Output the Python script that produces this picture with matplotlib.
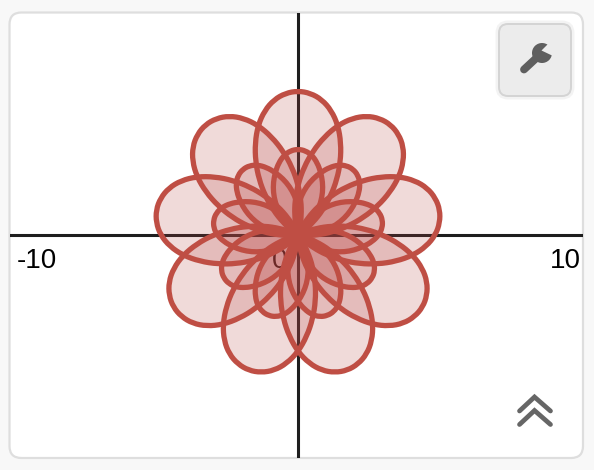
import numpy as np
import matplotlib
matplotlib.use("Agg")
import matplotlib.pyplot as plt
from matplotlib.path import Path
from matplotlib.patches import PathPatch, FancyBboxPatch, Circle, Polygon
from matplotlib.transforms import Affine2D

plt.rcParams['font.family'] = ['Liberation Sans', 'DejaVu Sans']

# Petal directions (degrees)
outer_directions = [90, 130, 170, 210, 250, 290, 330, 10, 50]
inner_directions = [90, 130, 170, 210, 250, 290, 330, 10, 50]

# Half-petal profiles: angle off the petal axis (deg), radius (units)
outer_offset = [0, 5, 10, 15, 20, 25, 30, 35, 40, 45, 50, 55, 59]
outer_radius = [5.02, 4.96, 4.79, 4.49, 4.07, 3.54, 2.96, 2.37, 1.77, 1.21, 0.68, 0.24, 0.0]
inner_offset = [0, 5, 10, 15, 20, 25, 30, 35, 40, 45, 50, 53]
inner_radius = [2.99, 2.95, 2.82, 2.60, 2.32, 2.03, 1.72, 1.38, 1.02, 0.62, 0.25, 0.0]

tick_values = [-10, 10]
tick_labels = ["-10", "10"]
origin_label = "0"

RED_LINE = "#bf4e44"
RED_FILL = "#b84644"
AXIS = "#1e1e1e"
W, H = 594, 470
S = 28.7  # px per unit
CX, CY = 298, 235
L, R, T, B = 9.5, 583, 12.5, 458

fig = plt.figure(figsize=(W / 100, H / 100), dpi=100, facecolor="#f8f8f8")

# Chrome layer in pixel coordinates
bg = fig.add_axes([0, 0, 1, 1], zorder=0)
bg.set_xlim(0, W); bg.set_ylim(H, 0); bg.axis("off")
bg.add_patch(FancyBboxPatch((L, T), R - L, B - T, boxstyle="round,pad=0,rounding_size=12",
                            fc="white", ec="#dedede", lw=1.6))

# Plot layer
ax = fig.add_axes([L / W, 1 - B / H, (R - L) / W, (B - T) / H], zorder=1)
ax.patch.set_alpha(0)
ax.set_xlim((L - CX) / S, (R - CX) / S)
ax.set_ylim((CY - B) / S, (CY - T) / S)
ax.axis("off")
ax.axhline(0, color=AXIS, lw=2.2, zorder=1)
ax.axvline(0, color=AXIS, lw=2.2, zorder=1)

for v, lab in zip(tick_values, tick_labels):
    if v < 0:
        ax.annotate(lab, (v, 0), xytext=(4.2, -23.5), textcoords="offset points",
                    ha="left", va="baseline", fontsize=20, color="black", zorder=2)
    else:
        ax.annotate(lab, (ax.get_xlim()[1], 0), xytext=(-1.5, -23.5), textcoords="offset points",
                    ha="right", va="baseline", fontsize=20, color="black", zorder=2)
ax.annotate(origin_label, (0, 0), xytext=(-7.5, -23.5), textcoords="offset points",
            ha="right", va="baseline", fontsize=20, color="black", zorder=2)


def petal_path(offsets, radii):
    a = np.radians(np.array(list(offsets)[::-1] + [-o for o in offsets[1:]]))
    r = np.array(list(radii)[::-1] + list(radii[1:]))
    pts = np.column_stack([r * np.cos(a), r * np.sin(a)])
    verts = [pts[0]]
    codes = [Path.MOVETO]
    for i in range(1, len(pts) - 1):
        end = pts[i + 1] if i == len(pts) - 2 else (pts[i] + pts[i + 1]) / 2
        verts += [pts[i], end]
        codes += [Path.CURVE3, Path.CURVE3]
    return Path(verts, codes)


outer_path = petal_path(outer_offset, outer_radius)
inner_path = petal_path(inner_offset, inner_radius)

for path, dirs in ((outer_path, outer_directions), (inner_path, inner_directions)):
    for d in dirs:
        tr = Affine2D().rotate_deg(d) + ax.transData
        ax.add_patch(PathPatch(path, transform=tr, fc=RED_FILL, ec="none", alpha=0.2, zorder=3))
for path, dirs in ((outer_path, outer_directions), (inner_path, inner_directions)):
    for d in dirs:
        tr = Affine2D().rotate_deg(d) + ax.transData
        ax.add_patch(PathPatch(path, transform=tr, fc="none", ec=RED_LINE, lw=3.8, zorder=4,
                               capstyle="round", joinstyle="round"))

# UI chrome on top
ui = fig.add_axes([0, 0, 1, 1], zorder=2)
ui.set_xlim(0, W); ui.set_ylim(H, 0); ui.axis("off")
ui.add_patch(FancyBboxPatch((499, 24), 72, 72, boxstyle="round,pad=0,rounding_size=9",
                            fc="#f1f1f1", ec="#f3f3f3", lw=5))
ui.add_patch(FancyBboxPatch((499, 24), 72, 72, boxstyle="round,pad=0,rounding_size=9",
                            fc="#ececec", ec="#d4d4d4", lw=1.4))
GREY = "#5f5f5f"
ui.plot([524, 538], [69.5, 56.5], color=GREY, lw=5.6, solid_capstyle="round")
ui.add_patch(Circle((542, 53), 10, fc=GREY, ec="none"))
ui.add_patch(Polygon([(541.5, 50.5), (549, 43), (558, 49), (552, 55.5)], fc="#ececec", ec="none"))
ui.add_patch(Circle((524, 69.5), 1.4, fc="#ececec", ec="none"))
for y in (411, 424.5):
    ui.plot([519.5, 534.5, 550.5], [y, y - 14, y], color="#666666", lw=3.4,
            solid_capstyle="round", solid_joinstyle="miter")

fig.savefig("out.png", dpi=100, facecolor=fig.get_facecolor())
